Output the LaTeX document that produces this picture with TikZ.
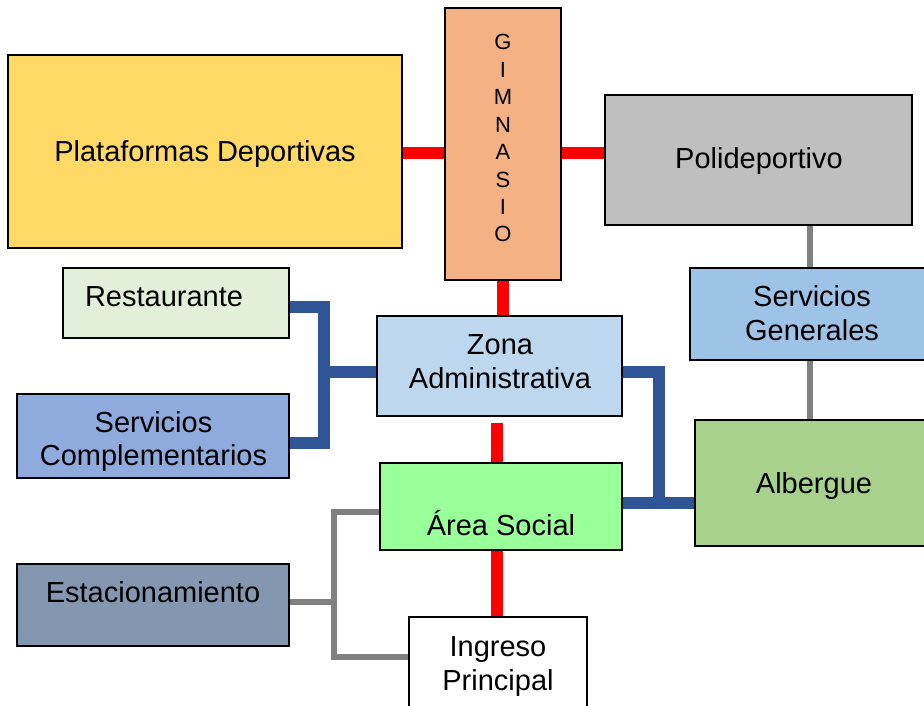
\documentclass[tikz,border=0pt]{standalone}
\usepackage{fontspec}
\setmainfont{Liberation Sans}
\usetikzlibrary{backgrounds}
\definecolor{cplat}{HTML}{FFD966}
\definecolor{cgim}{HTML}{F4B183}
\definecolor{cpoli}{HTML}{BFBFBF}
\definecolor{crest}{HTML}{E2F0D9}
\definecolor{czona}{HTML}{BDD7EE}
\definecolor{csg}{HTML}{9DC3E6}
\definecolor{ccomp}{HTML}{8FAADC}
\definecolor{carea}{HTML}{99FF99}
\definecolor{calb}{HTML}{A9D18E}
\definecolor{cest}{HTML}{8497B0}
\definecolor{cblue}{HTML}{2F5597}
\definecolor{cgray}{HTML}{808080}
\begin{document}
\begin{tikzpicture}[x=1pt,y=-1pt,
  box/.style={draw=black, line width=1.6pt, rectangle, inner sep=0pt},
  txt/.style={anchor=base, inner sep=0pt, font=\fontsize{29}{34}\selectfont},
  gtxt/.style={anchor=base, inner sep=0pt, font=\fontsize{22}{27}\selectfont},
  redcon/.style={draw=red, line width=12pt},
  bluecon/.style={draw=cblue, line width=12pt, line join=miter},
  graycon/.style={draw=cgray, line width=6pt, line join=miter}]
\useasboundingbox (0,0) rectangle (924,706);
\clip (0,0) rectangle (924,706);
% boxes
\node[box, fill=cplat, minimum width=394pt, minimum height=193pt] (plat) at (205,151.5) {};
\node[box, fill=cgim, minimum width=116pt, minimum height=272pt] (gim) at (503,144) {};
\node[box, fill=cpoli, minimum width=307pt, minimum height=130pt] (poli) at (758.5,160) {};
\node[box, fill=crest, minimum width=226pt, minimum height=70pt] (rest) at (176,303) {};
\node[box, fill=czona, minimum width=245pt, minimum height=100pt] (zona) at (499.5,366) {};
\node[box, fill=csg, minimum width=244pt, minimum height=92pt] (sg) at (812,314) {};
\node[box, fill=ccomp, minimum width=272pt, minimum height=84pt] (comp) at (153,436) {};
\node[box, fill=carea, minimum width=242pt, minimum height=87pt] (area) at (501,506.5) {};
\node[box, fill=calb, minimum width=238pt, minimum height=126pt] (alb) at (814,483) {};
\node[box, fill=cest, minimum width=272pt, minimum height=82pt] (est) at (153,605) {};
\node[box, fill=white, minimum width=178pt, minimum height=95pt] (ing) at (498,664.5) {};
% texts
\node[txt] (platT) at (205,162) {Plataformas Deportivas};
\node[gtxt] (g1) at (503,50) {G};
\node[gtxt] (g2) at (503,77.4) {I};
\node[gtxt] (g3) at (503,104.8) {M};
\node[gtxt] (g4) at (503,132.2) {N};
\node[gtxt] (g5) at (503,159.6) {A};
\node[gtxt] (g6) at (503,187) {S};
\node[gtxt] (g7) at (503,214.4) {I};
\node[gtxt] (g8) at (503,241.8) {O};
\node[txt] (poliT) at (759,168) {Polideportivo};
\node[txt] (restT) at (164,306) {Restaurante};
\node[txt] (zonaT1) at (500,354) {Zona};
\node[txt] (zonaT2) at (500,388) {Administrativa};
\node[txt] (sgT1) at (812,306) {Servicios};
\node[txt] (sgT2) at (812,340) {Generales};
\node[txt] (compT1) at (153.5,432) {Servicios};
\node[txt] (compT2) at (153.5,465) {Complementarios};
\node[txt] (areaT) at (501,535) {Área Social};
\node[txt] (albT) at (814,493) {Albergue};
\node[txt] (estT) at (153,602) {Estacionamiento};
\node[txt] (ingT1) at (498,656) {Ingreso};
\node[txt] (ingT2) at (498,690) {Principal};
\begin{scope}[on background layer]
  % red connectors
  \draw[redcon] (plat.east |- 0,153) -- (gim.west |- 0,153);
  \draw[redcon] (gim.east |- 0,153) -- (poli.west |- 0,153);
  \draw[redcon] (gim.south) -- (gim.south |- zona.north);
  \draw[redcon] (zona.south -| 497,0) ++(0,6) -- (area.north -| 497,0);
  \draw[redcon] (area.south -| 497,0) -- (ing.north -| 497,0);
  % gray vertical connectors
  \draw[graycon] (poli.south -| 810,0) -- (sg.north -| 810,0);
  \draw[graycon] (sg.south -| 810,0) -- (alb.north -| 810,0);
  % blue left
  \coordinate (jL) at (324,372);
  \draw[bluecon] (zona.west |- jL) -- (jL);
  \draw[bluecon] (rest.east |- 0,307) -- (jL |- 0,307) -- (jL |- 0,443) -- (comp.east |- 0,443);
  % blue right
  \coordinate (jR) at (659,503);
  \draw[bluecon] (zona.east |- 0,372) -- (jR |- 0,372) -- (jR);
  \draw[bluecon] (area.east |- jR) -- (alb.west |- jR);
  % gray left
  \coordinate (jG) at (334,602);
  \draw[graycon] (est.east |- jG) -- (jG);
  \draw[graycon] (area.west |- 0,512) -- (jG |- 0,512) -- (jG |- 0,657) -- (ing.west |- 0,657);
\end{scope}
\end{tikzpicture}
\end{document}
